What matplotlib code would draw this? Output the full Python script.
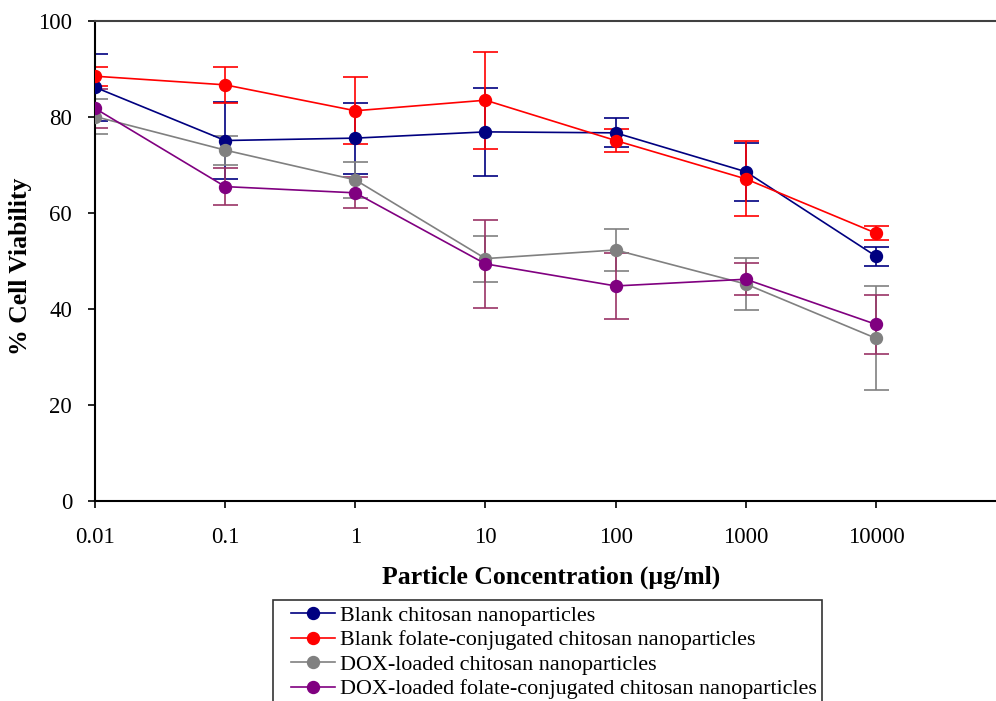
import matplotlib
matplotlib.use("Agg")
import matplotlib.pyplot as plt
from matplotlib.lines import Line2D
from matplotlib.legend_handler import HandlerLine2D
import numpy as np

conc = [0.01, 0.1, 1, 10, 100, 1000, 10000]
xtick_labels = ["0.01", "0.1", "1", "10", "100", "1000", "10000"]

blank_cs = [86.2, 75.1, 75.6, 76.9, 76.7, 68.6, 51.0]
blank_cs_err = [7.0, 8.0, 7.4, 9.2, 3.0, 6.0, 2.0]

blank_fcs = [88.5, 86.7, 81.3, 83.5, 75.1, 67.1, 55.8]
blank_fcs_err = [2.0, 3.8, 7.0, 10.1, 2.3, 7.8, 1.5]

dox_cs = [80.1, 73.1, 66.9, 50.5, 52.3, 45.2, 33.9]
dox_cs_err = [3.6, 3.0, 3.7, 4.8, 4.4, 5.5, 10.8]

dox_fcs = [81.8, 65.5, 64.2, 49.4, 44.8, 46.2, 36.8]
dox_fcs_err = [4.0, 3.9, 3.2, 9.2, 6.8, 3.3, 6.2]

labels = ["Blank chitosan nanoparticles",
          "Blank folate-conjugated chitosan nanoparticles",
          "DOX-loaded chitosan nanoparticles",
          "DOX-loaded folate-conjugated chitosan nanoparticles"]
line_colors = ["#000080", "#FF0000", "#808080", "#800080"]
err_colors = ["#000080", "#FF0000", "#808080", "#993366"]

plt.rcParams['font.family'] = ['Liberation Serif', 'DejaVu Serif']

fig = plt.figure(figsize=(9.96, 7.01), dpi=100)
ax = fig.add_axes([95/996, 200/701, 1 - 95/996, 480/701])

series = [(blank_cs, blank_cs_err), (blank_fcs, blank_fcs_err),
          (dox_cs, dox_cs_err), (dox_fcs, dox_fcs_err)]
handles = []
for (vals, errs), lab, lc, ec in zip(series, labels, line_colors, err_colors):
    ax.errorbar(conc, vals, yerr=errs, fmt='none', ecolor=ec, elinewidth=1.2,
                capsize=9, capthick=1.2, zorder=2)
    h, = ax.plot(conc, vals, color=lc, lw=1.2, marker='o', markersize=8.6,
                 markerfacecolor=lc, markeredgecolor=lc, label=lab, zorder=3)
    handles.append(h)

ax.set_xscale('log')
ax.set_xlim(0.01, 10**4.922)
ax.set_ylim(0, 100)
ax.set_xticks(conc)
ax.set_xticklabels(xtick_labels)
ax.xaxis.set_minor_locator(matplotlib.ticker.NullLocator())
ax.set_yticks([0, 20, 40, 60, 80, 100])
ax.tick_params(axis='both', direction='out', length=5, width=1.2,
               labelsize=16.5, colors='black')
ax.tick_params(axis='x', pad=14)
ax.tick_params(axis='y', pad=11.5)

ax.spines['right'].set_visible(False)
ax.spines['top'].set_color('#404040')
for s in ['left', 'bottom', 'top']:
    ax.spines[s].set_linewidth(1.5)
ax.spines['left'].set_color('black')
ax.spines['bottom'].set_color('black')

fig.text(551/996, 1 - 577/701, "Particle Concentration (\u00b5g/ml)",
         ha='center', va='center', fontsize=18.5, fontweight='bold')
fig.text(20/996, 1 - 266/701, "% Cell Viability", ha='center', va='center',
         rotation=90, fontsize=18.5, fontweight='bold')

leg_fs = 15.9
leg = fig.legend(handles=handles, labels=labels, loc='upper left',
                 bbox_to_anchor=(273/996, 1 - 600/701), fontsize=leg_fs,
                 frameon=True, fancybox=False, edgecolor='black',
                 handlelength=2.55, handletextpad=0.23, labelspacing=0.18,
                 borderpad=0.25, borderaxespad=0, markerscale=1.0,
                 handler_map={Line2D: HandlerLine2D(xpad=0.58)})
leg.get_frame().set_linewidth(1.2)

fig.savefig("out.png", dpi=100)
